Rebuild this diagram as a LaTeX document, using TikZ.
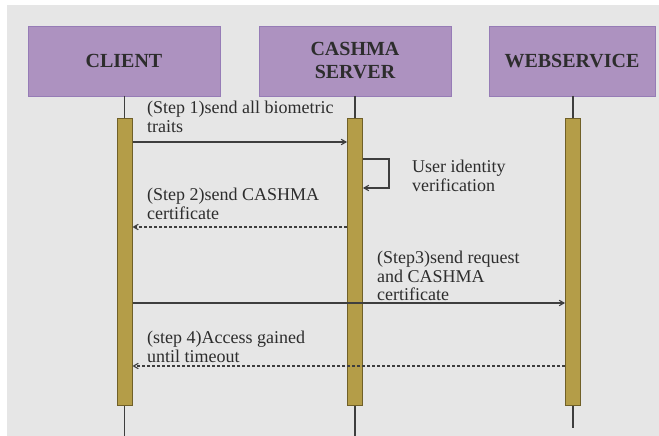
\documentclass[tikz,border=0pt]{standalone}
\usepackage{fontspec}
\setmainfont{Liberation Serif}
\usetikzlibrary{positioning}
\usetikzlibrary{arrows,calc}

\definecolor{bggray}{RGB}{230,230,230}
\definecolor{lanefill}{RGB}{173,146,192}
\definecolor{laneedge}{RGB}{150,124,182}
\definecolor{barfill}{RGB}{180,157,72}
\definecolor{baredge}{RGB}{112,96,40}
\definecolor{wire}{RGB}{62,62,62}
\definecolor{ink}{RGB}{45,45,45}

\begin{document}
\begin{tikzpicture}[x=1pt,y=-1pt, >=angle 60,
    lane/.style={rectangle, fill=lanefill, draw=laneedge, minimum width=192pt,
      minimum height=70pt, align=center, text=ink,
      font=\fontsize{20}{23}\selectfont\bfseries},
    actbar/.style={rectangle, fill=barfill, draw=baredge, line width=1pt,
      minimum width=15pt, minimum height=287pt, inner sep=0pt},
    msg/.style={->, wire, line width=1.1pt},
    reply/.style={->, wire, line width=1.1pt, densely dashed},
    note/.style={anchor=north west, inner sep=0pt, align=left, text=ink,
      font=\fontsize{18}{18.5}\selectfont}]

  \useasboundingbox (0,0) rectangle (659,436);
  \fill[bggray] (7,5) rectangle (659,436);

	%lanes and life lines
    \foreach \bx/\cx/\w/\txt/\name/\tail in {124/124.5/192/CLIENT/cl/436, 355/355/192/{CASHMA\\SERVER}/cs/436, 572/573/166/WEBSERVICE/ws/428}{
           \node[lane, minimum width=\w pt] (\name) at (\bx,61) {\txt};
           \coordinate (\name top) at (\cx,96);
           \coordinate (\name end) at (\cx,\tail);
           \draw[wire, line width=1.4pt] (\name top) -- (\name end);
           \node[actbar] (\name bar) at (\cx,261.5) {};
    }

	%messages
    \coordinate (m1) at (0,142);
    \coordinate (m2) at (0,227);
    \coordinate (m3) at (0,303);
    \coordinate (m4) at (0,366);
    \coordinate (lp1) at (389,159);
    \coordinate (lp2) at (389,188);

    \draw[msg] (clbar.east |- m1) -- (csbar.west |- m1);
    \draw[msg] (csbar.east |- lp1) -- (lp1) -- (lp2) -- (csbar.east |- lp2);
    \draw[reply] (csbar.west |- m2) -- (clbar.east |- m2);
    \draw[msg] (clbar.east |- m3) -- (wsbar.west |- m3);
    \draw[reply] (wsbar.west |- m4) -- (clbar.east |- m4);

	%labels
    \node[note] (t1) at (147,101) {(Step 1)send all biometric\\traits};
    \node[note] (t0) at (412,160) {User identity\\verification};
    \node[note] (t2) at (147,188) {(Step 2)send CASHMA\\certificate};
    \node[note] (t3) at (377,251) {(Step3)send request\\and CASHMA\\certificate};
    \node[note] (t4) at (147,331) {(step 4)Access gained\\until timeout};

\end{tikzpicture}
\end{document}
